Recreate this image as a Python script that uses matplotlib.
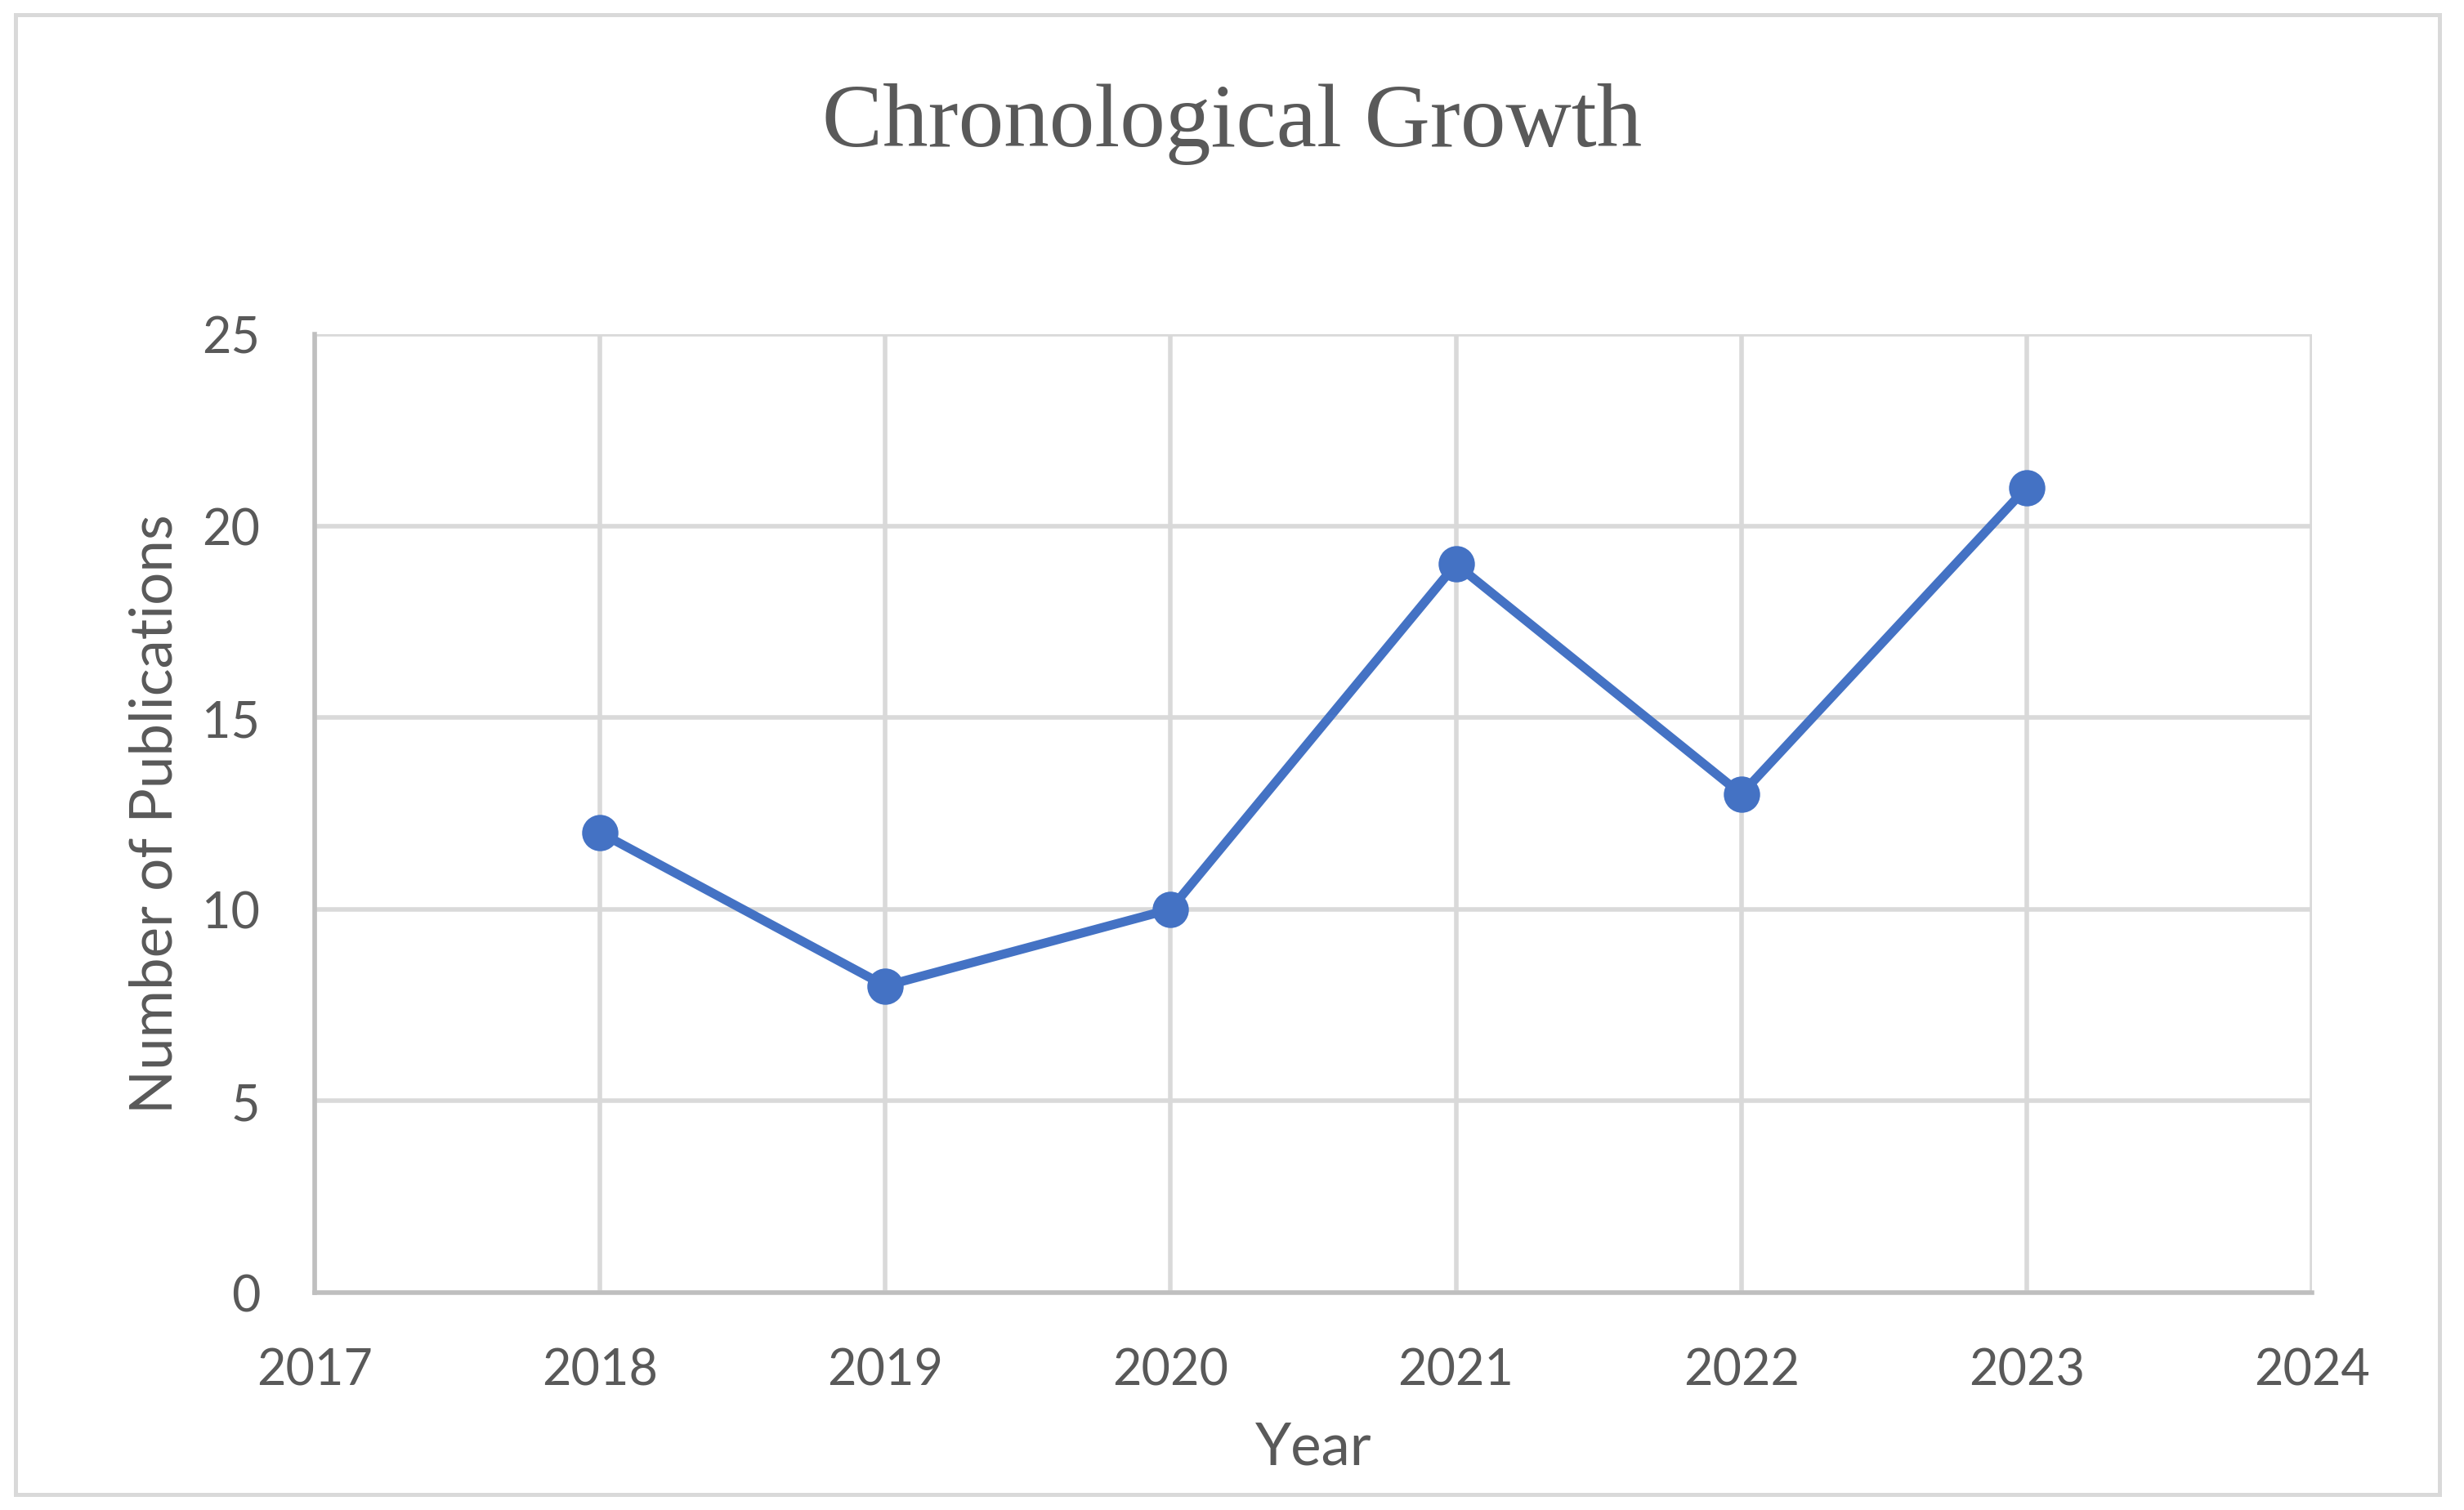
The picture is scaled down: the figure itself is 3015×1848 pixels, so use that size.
import matplotlib.pyplot as plt
from matplotlib.patches import Rectangle

# data
years = [2018, 2019, 2020, 2021, 2022, 2023]
publications = [12, 8, 10, 19, 13, 21]
x_ticks = [2017, 2018, 2019, 2020, 2021, 2022, 2023, 2024]
y_ticks = [0, 5, 10, 15, 20, 25]

text_color = '#595959'
grid_color = '#d9d9d9'
axis_color = '#bfbfbf'
line_color = '#4472C4'

fig = plt.figure(figsize=(15.075, 9.245), dpi=200)
ax = fig.add_axes([0.1277, 0.1439, 0.8106, 0.6344])

ax.plot(years, publications, color=line_color, linewidth=4.0,
        marker='o', markersize=15, zorder=3)

ax.set_xlim(2017, 2024)
ax.set_ylim(0, 25)
ax.set_xticks(x_ticks)
ax.set_yticks(y_ticks)
ax.grid(True, color=grid_color, linewidth=2.0)
ax.set_axisbelow(True)

for s in ['top', 'right']:
    ax.spines[s].set_visible(False)
for s in ['left', 'bottom']:
    ax.spines[s].set_color(axis_color)
    ax.spines[s].set_linewidth(2.0)

ax.tick_params(length=0, labelsize=22, labelcolor=text_color, pad=24)
for lab in ax.get_xticklabels() + ax.get_yticklabels():
    lab.set_fontfamily('Lato')

ax.set_xlabel('Year', fontsize=25.5, color=text_color, family='Lato', labelpad=12)
ax.set_ylabel('Number of Publications', fontsize=25.5, color=text_color, family='Lato', labelpad=9)

fig.text(0.5, 1 - 152 / 1849, 'Chronological Growth', ha='center', va='center',
         fontsize=40, color=text_color, family='Liberation Serif')

# chart border
fig.patches.append(Rectangle((19 / 3015, 1 - 1830 / 1849), (2985 - 19) / 3015, (1830 - 19) / 1849,
                             transform=fig.transFigure, fill=False,
                             edgecolor=grid_color, linewidth=1.8))

fig.savefig('out.png', dpi=200)
